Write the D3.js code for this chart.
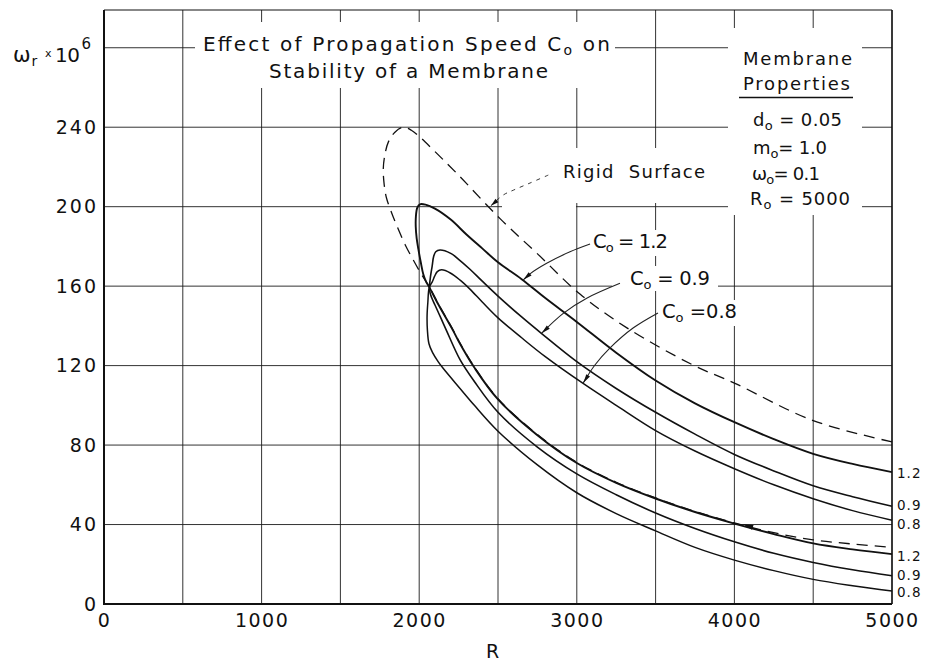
<!DOCTYPE html>
<html><head><meta charset="utf-8">
<script src="https://cdn.jsdelivr.net/npm/d3@7"></script>
<style>
body{margin:0;background:#fff;}
svg{display:block;background:#fff;}
text{font-family:"DejaVu Sans",sans-serif;fill:#111;white-space:pre;}
</style></head><body>
<svg id="chart" width="927" height="664"></svg>
<script>
// ---------------- data ----------------
const xTicks = [0, 1000, 2000, 3000, 4000, 5000];
const yTicks = [0, 40, 80, 120, 160, 200, 240];
const gridR = [0, 500, 1000, 1500, 2000, 2500, 3000, 3500, 4000, 4500, 5000];
const gridW = [0, 40, 80, 120, 160, 200, 240, 280];

// Rigid surface (dashed) loop: upper branch from R=5000 back to nose, then lower branch
const rigidR = [5000,4500,4000,3737,3318,3020,2754,2513,2238,2090,2005,1950,1899,1846,1804,1782,1772,1778,1792,1820,1860,1910,1960,2010,2064,2120,2216,2259,2350,2500,2750,3000,3250,3500,3750,4000,4250,4500,4750,5000];
const rigidW = [81.6,92.3,111.2,120.3,139,156,176,194,216.8,228.5,235,238.5,240,237.5,232.5,226,219,211,204.5,198,190,181,173.5,166.5,159.7,151.3,137.8,131.3,119.3,103.3,85.3,71.3,61.3,53.4,46.6,40.8,35.9,32.3,30.2,28.5];

// C0 = 1.2
const c12R = [5000,4750,4500,4250,4000,3750,3500,3250,3000,2800,2650,2500,2400,2300,2200,2100,2040,2005,1988,1979,1978,1984,1995,2010,2026,2045,2064,2120,2216,2259,2350,2500,2750,3000,3250,3500,3750,4000,4250,4500,4750,5000];
const c12W = [66.4,70.5,75.6,83,91.5,101,112.5,126.5,142,154,163.5,172,179,186,193.5,199,201,201.2,199.5,195,190,184,178.5,172,166,162,159.5,151,137.5,131,119,103,85,71,61,53.1,46.3,40.5,35.2,30.5,27.5,25.1];

// C0 = 0.9
const c09R = [5000,4750,4500,4250,4000,3750,3500,3250,3000,2779,2650,2500,2400,2322,2250,2200,2132,2105,2092,2082,2072,2066,2068,2080,2100,2140,2174,2259,2350,2500,2750,3000,3250,3500,3750,4000,4250,4500,4750,5000];
const c09W = [49.2,54,59.5,67,75.3,85.5,96.5,108.5,122,136,144.5,155,162.5,168.5,173.5,176.5,178.2,177.3,175,170,165,160.5,157,154,150.5,143.5,137.5,123,112,96.5,79,65.5,55,45.8,38,31.3,25.5,20.9,17.2,14.2];

// C0 = 0.8
const c08R = [5000,4750,4500,4250,4000,3750,3500,3250,3040,2800,2650,2500,2400,2322,2260,2200,2142,2115,2098,2082,2064,2055,2050,2052,2062,2085,2120,2153,2259,2350,2500,2750,3000,3250,3500,3750,4000,4250,4500,4750,5000];
const c08W = [42.2,47,53,60,68.1,77,87.3,100,111,124.5,134,144,152,158.5,163,166.5,168.2,167.3,165,162,159.5,152,145,138,131,126.5,122,118.5,108.5,100,87,70,56,45.5,36.8,28.5,22.1,16.8,12.4,9.2,6.5];

// leader lines (data coordinates), last point = arrow tip
const leadRigidR = [2819, 2703, 2600, 2534, 2455];
const leadRigidW = [215.9, 211.9, 208.4, 205.9, 200.5];
const lead12R = [3084, 2957, 2809, 2703, 2661];
const lead12W = [181.2, 177.3, 171.5, 166.2, 163.2];
const lead09R = [3274, 3063, 2914, 2777];
const lead09W = [161.4, 153.9, 146.3, 136.3];
const lead08R = [3515, 3357, 3211, 3115, 3041];
const lead08W = [146.5, 138.9, 128.9, 120.3, 111.3];
const markR = [4150, 4050];
const markW = [37.7, 40.3];

const endLabels = ["1.2", "0.9", "0.8"];

// ---------------- layout ----------------
const svg = d3.select("#chart");
const x = d3.scaleLinear().domain([0, 5000]).range([104, 892]);
const y = d3.scaleLinear().domain([0, 299]).range([604, 10]);

// grid
const grid = svg.append("g").attr("stroke", "#1c1c1c").attr("stroke-width", 0.9);
grid.selectAll("line.v").data(gridR).join("line").attr("class", "v")
  .attr("x1", d => x(d)).attr("x2", d => x(d)).attr("y1", y(0)).attr("y2", y(299));
grid.selectAll("line.h").data(gridW).join("line").attr("class", "h")
  .attr("y1", d => y(d)).attr("y2", d => y(d)).attr("x1", x(0)).attr("x2", x(5000));

// white patches behind annotations (as in the original paste-up)
const masks = [
  [195, 22, 420, 66],   // title
  [728, 28, 134, 187],  // membrane properties
  [502, 148, 218, 55],  // rigid surface
  [502, 203, 74, 7],
  [589, 230, 83, 26],   // C0=1.2
  [612, 266, 106, 25],  // C0=0.9
  [658, 300, 83, 26]    // C0=0.8
];
svg.append("g").selectAll("rect").data(masks).join("rect")
  .attr("x", d => d[0]).attr("y", d => d[1]).attr("width", d => d[2]).attr("height", d => d[3])
  .attr("fill", "#fff");

// frame
const frame = svg.append("g").attr("stroke", "#111").attr("fill", "none");
frame.append("line").attr("x1", x(0)).attr("x2", x(0)).attr("y1", y(0)+1).attr("y2", y(299)).attr("stroke-width", 2);
frame.append("line").attr("x1", x(0)-1).attr("x2", x(5000)).attr("y1", y(0)).attr("y2", y(0)).attr("stroke-width", 2);
frame.append("line").attr("x1", x(0)).attr("x2", x(5000)).attr("y1", y(299)).attr("y2", y(299)).attr("stroke-width", 1.2);
frame.append("line").attr("x1", x(5000)).attr("x2", x(5000)).attr("y1", y(0)).attr("y2", y(299)).attr("stroke-width", 1.4);

// curves
const line = d3.line().x(d => x(d[0])).y(d => y(d[1])).curve(d3.curveCatmullRom.alpha(0.5));
const curves = svg.append("g").attr("fill", "none").attr("stroke", "#111").attr("stroke-linejoin", "round");
curves.append("path").attr("d", line(d3.zip(rigidR, rigidW))).attr("stroke-width", 1.3).attr("stroke-dasharray", "11,7");
curves.append("path").attr("d", line(d3.zip(c08R, c08W))).attr("stroke-width", 1.5);
curves.append("path").attr("d", line(d3.zip(c09R, c09W))).attr("stroke-width", 1.6);
curves.append("path").attr("d", line(d3.zip(c12R, c12W))).attr("stroke-width", 1.9);

// leaders with arrowheads
function arrowHead(g, pts, len, half) {
  const p = pts[pts.length - 1], q = pts[pts.length - 2];
  const tx = x(p[0]), ty = y(p[1]), qx = x(q[0]), qy = y(q[1]);
  const dx = tx - qx, dy = ty - qy, L = Math.hypot(dx, dy);
  const ux = dx / L, uy = dy / L;
  const bx = tx - ux * len, by = ty - uy * len;
  g.append("path")
    .attr("d", `M${tx},${ty}L${bx - uy * half},${by + ux * half}L${bx + uy * half},${by - ux * half}Z`)
    .attr("fill", "#111").attr("stroke", "none");
}
const leadLine = d3.line().x(d => x(d[0])).y(d => y(d[1])).curve(d3.curveCatmullRom.alpha(0.5));
const leaders = svg.append("g").attr("fill", "none").attr("stroke", "#222");
[[lead12R, lead12W], [lead09R, lead09W], [lead08R, lead08W]].forEach(([r, w]) => {
  const pts = d3.zip(r, w);
  leaders.append("path").attr("d", leadLine(pts)).attr("stroke-width", 1.1);
  arrowHead(leaders, pts, 9, 2.2);
});
{
  const pts = d3.zip(leadRigidR, leadRigidW);
  leaders.append("path").attr("d", leadLine(pts)).attr("stroke-width", 0.9).attr("stroke-dasharray", "4,5");
  arrowHead(leaders, pts, 8, 2.2);
}
arrowHead(leaders, d3.zip(markR, markW), 11, 2.6);

// axes
const fontFam = '"DejaVu Sans", sans-serif';
const xAxis = svg.append("g").attr("transform", `translate(0,${y(0)})`)
  .call(d3.axisBottom(x).tickValues(xTicks).tickSize(0).tickPadding(9.5).tickFormat(d3.format("d")));
xAxis.select(".domain").remove();
xAxis.selectAll("text").attr("font-family", fontFam).attr("font-size", 19).attr("fill", "#111")
  .style("letter-spacing", "1.5px");
const yAxis = svg.append("g").attr("transform", `translate(${x(0)},0)`)
  .call(d3.axisLeft(y).tickValues(yTicks).tickSize(0).tickPadding(6).tickFormat(d3.format("d")));
yAxis.select(".domain").remove();
yAxis.selectAll("text").attr("font-family", fontFam).attr("font-size", 19).attr("fill", "#111")
  .style("letter-spacing", "2px");

// rich text helper
function rich(px, py, parts, size, opts = {}) {
  const t = svg.append("text").attr("x", px).attr("y", py).attr("font-size", size);
  if (opts.anchor) t.attr("text-anchor", opts.anchor);
  let shift = 0;
  parts.forEach(p => {
    const s = typeof p === "string" ? { t: p } : p;
    const target = s.dy || 0;
    const ts = t.append("tspan").text(s.t).attr("dy", target - shift);
    shift = target;
    if (s.size) ts.attr("font-size", s.size);
  });
  if (opts.len) t.attr("textLength", opts.len).attr("lengthAdjust", "spacing");
  return t;
}
const sub = { t: "o", dy: 4, size: 13 };

// title
rich(203, 51, ["Effect of Propagation Speed C", { t: "o", dy: 4, size: 14 }, { t: " on", dy: 0 }], 20, { len: 407 });
rich(269, 78, ["Stability of a Membrane"], 20, { len: 279 });

// y-axis label
rich(13, 62, ["ω"], 21);
rich(31.5, 65.5, ["r"], 14);
rich(45, 57, ["x"], 11);
rich(55, 62, ["10"], 20, { len: 25 });
rich(81.5, 49, ["6"], 15);

// x-axis label
rich(492.5, 658, ["R"], 19, { anchor: "middle" });

// membrane properties
rich(743, 65, ["Membrane"], 18, { len: 109 });
rich(743, 90, ["Properties"], 18, { len: 107 });
svg.append("line").attr("x1", 739).attr("x2", 853).attr("y1", 97.5).attr("y2", 97.5)
  .attr("stroke", "#111").attr("stroke-width", 1.6);
rich(753, 126, ["d", sub, { t: " = 0.05", dy: 0 }], 18, { len: 89 });
rich(753, 154, ["m", sub, { t: "= 1.0", dy: 0 }], 18, { len: 74 });
rich(752, 180, ["ω", sub, { t: "= 0.1", dy: 0 }], 18, { len: 68 });
rich(750, 205, ["R", sub, { t: " = 5000", dy: 0 }], 18, { len: 100 });

// curve annotations
rich(563, 178, ["Rigid  Surface"], 18, { len: 142 });
rich(593, 248, ["C", sub, { t: " = 1.2", dy: 0 }], 19.5, { len: 75 });
rich(630, 285, ["C", sub, { t: " = 0.9", dy: 0 }], 19.5, { len: 80 });
rich(662, 318, ["C", sub, { t: " =0.8", dy: 0 }], 19.5, { len: 75 });

// end-of-curve labels (baseline offset from each curve end)
const ends = [
  [endLabels[0], c12W[0], 6], [endLabels[1], c09W[0], 4], [endLabels[2], c08W[0], 8.5],
  [endLabels[0], c12W[c12W.length - 1], 6.5], [endLabels[1], c09W[c09W.length - 1], 4.2], [endLabels[2], c08W[c08W.length - 1], 5.5]
];
svg.append("g").selectAll("text").data(ends).join("text")
  .attr("x", x(5000) + 5).attr("y", d => y(d[1]) + d[2])
  .attr("font-size", 13.5).attr("font-family", fontFam).attr("fill", "#111")
  .style("letter-spacing", "1px")
  .text(d => d[0]);
</script>
</body></html>
